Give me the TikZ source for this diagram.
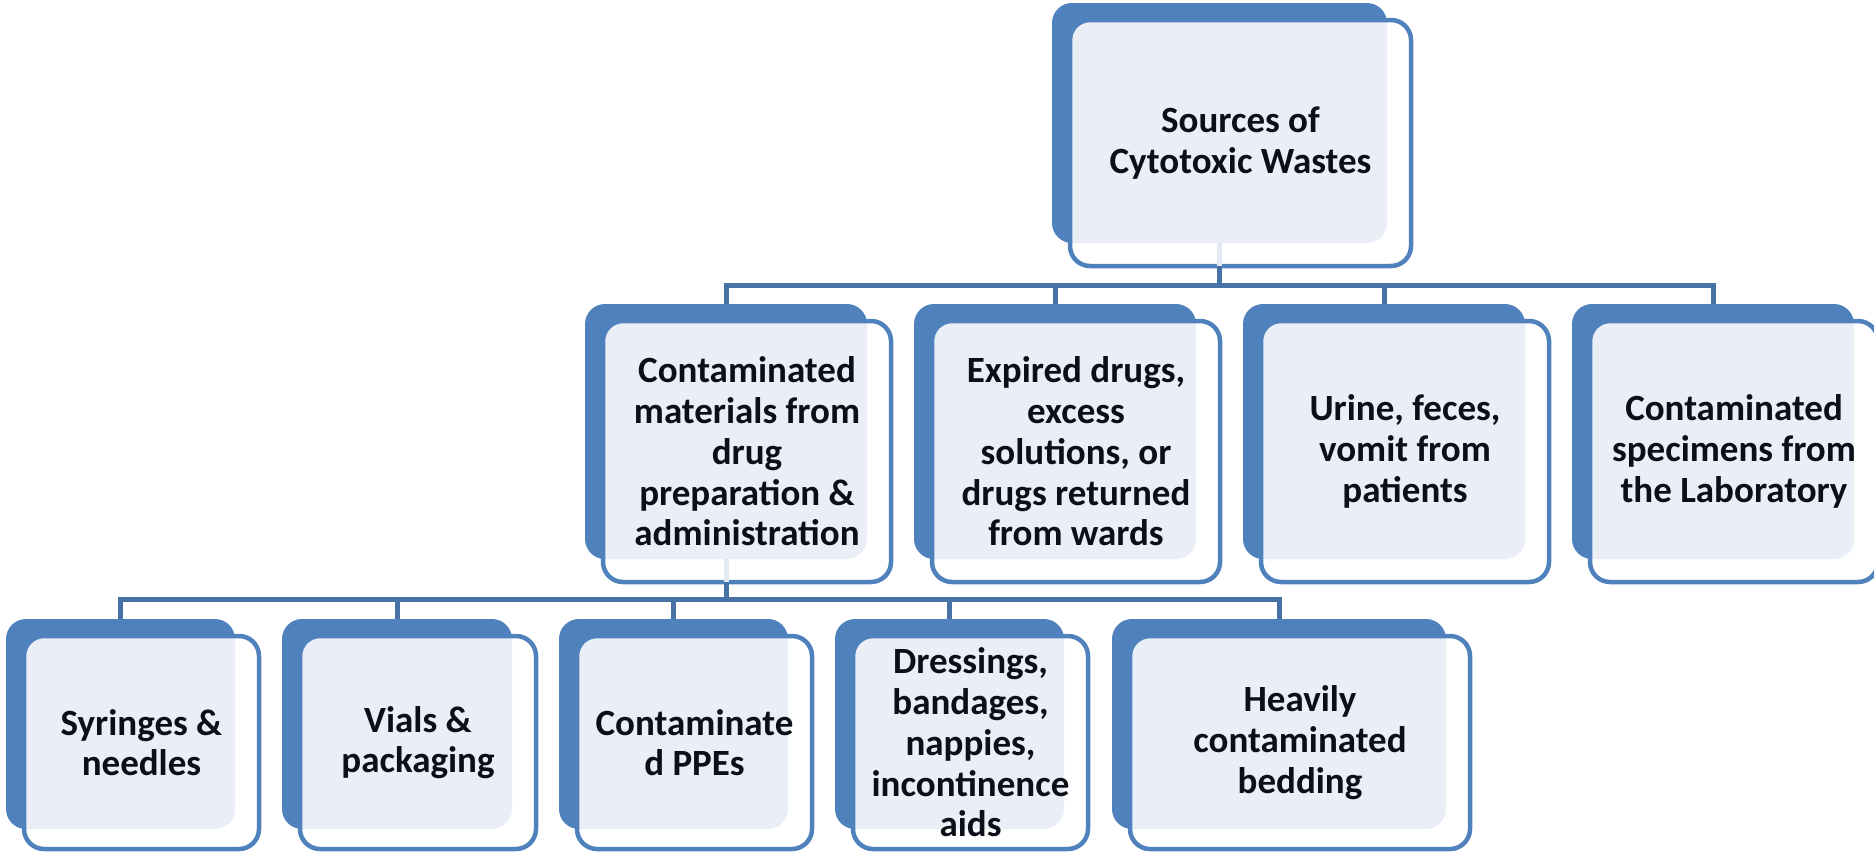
\documentclass[tikz,border=0pt]{standalone}
\usepackage{fontspec}
\setmainfont{Carlito}
\usetikzlibrary{calc}
\definecolor{backblue}{RGB}{79,129,189}
\definecolor{lightfill}{RGB}{234,239,247}
\definecolor{connblue}{RGB}{70,114,166}
\definecolor{stubcol}{RGB}{226,233,243}
\definecolor{txt}{RGB}{12,14,24}
\tikzset{
  conn/.style={draw=connblue, line width=5pt},
  stub/.style={draw=stubcol, line width=5pt},
  backbox/.style={fill=backblue, rounded corners=20pt},
  frontfill/.style={fill=white, rounded corners=20pt},
  lightbox/.style={fill=lightfill, rounded corners=20pt},
  frontline/.style={draw=backblue, line width=4.5pt, rounded corners=20pt},
  boxtext/.style={align=center, text=txt, inner sep=0pt,
    font=\fontsize{37}{40.7}\selectfont\bfseries},
}
% #1 name, #2 back x, #3 back y, #4 back w, #5 back h, #6 front bottom offset, #7 text
\newcommand\cbox[7]{%
  \path[backbox] ({#2},{#3}) rectangle ++({#4},{#5});
  \path[frontfill] ({#2+18},{#3+17}) rectangle ({#2+#4+24},{#3+#5+#6});
  \begin{scope}
    \clip[rounded corners=20pt] ({#2},{#3}) rectangle ++({#4},{#5});
    \path[lightbox] ({#2+18},{#3+17}) rectangle ({#2+#4+24},{#3+#5+#6});
  \end{scope}
  \path[frontline] ({#2+18},{#3+17}) rectangle ({#2+#4+24},{#3+#5+#6});
  \node[boxtext] (#1) at ({#2+(#4+42)/2},{#3+(#5+#6+17)/2}) {#7};
  \coordinate (#1-top) at ({#2+#4/2},{#3});
  \coordinate (#1-bbot) at ({#2+#4/2},{#3+#5});
  \coordinate (#1-fbot) at ({#2+#4/2},{#3+#5+#6});
}
\begin{document}
\begin{tikzpicture}[x=1pt,y=-1pt]
\useasboundingbox (0,0) rectangle (1874,852);
% root
\cbox{root}{1052}{3}{335}{240}{23}{Sources of\\Cytotoxic Wastes}
% row 2
\cbox{ra}{585}{304}{282}{255}{23}{Contaminated\\materials from\\drug\\preparation \&\\administration}
\cbox{rb}{914}{304}{282}{255}{23}{Expired drugs,\\excess\\solutions, or\\drugs returned\\from wards}
\cbox{rc}{1243}{304}{282}{255}{23}{Urine, feces,\\vomit from\\patients}
\cbox{rd}{1572}{304}{282}{255}{23}{Contaminated\\specimens from\\the Laboratory}
% row 3
\cbox{sa}{6}{619}{229}{210}{20}{Syringes \&\\needles}
\cbox{sb}{282}{619}{230}{210}{20}{Vials \&\\packaging}
\cbox{sc}{559}{619}{229}{210}{20}{Contaminate\\d PPEs}
\cbox{sd}{835}{619}{229}{210}{20}{Dressings,\\bandages,\\nappies,\\incontinence\\aids}
\cbox{se}{1112}{619}{334}{210}{20}{Heavily\\contaminated\\bedding}
% connectors
\draw[stub] (root-bbot) -- (root-fbot);
\foreach \c in {ra,rb,rc,rd}
  \draw[conn] (root-fbot) |- ($(\c-top)+(0,-19)$) -- (\c-top);
\draw[stub] (ra-bbot) -- (ra-fbot);
\foreach \c in {sa,sb,sc,sd,se}
  \draw[conn] (ra-fbot) |- ($(\c-top)+(0,-20)$) -- (\c-top);
\end{tikzpicture}
\end{document}
